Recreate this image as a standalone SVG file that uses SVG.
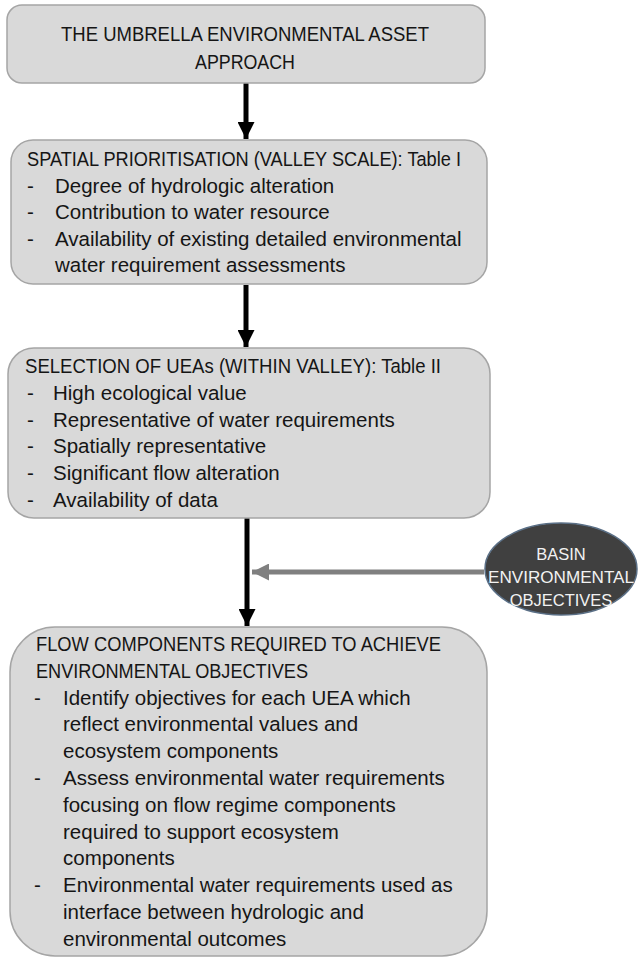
<svg xmlns="http://www.w3.org/2000/svg" width="640" height="958" viewBox="0 0 640 958">
<style>
.box{fill:#d9d9d9;stroke:#a5a5a5;stroke-width:1.5}
.t{font-family:"Liberation Sans",Arial,sans-serif;font-size:20.5px;fill:#151515}
.c{text-anchor:middle}
.e{font-family:"Liberation Sans",Arial,sans-serif;font-size:16.5px;fill:#f2f2f2;text-anchor:middle}
.blk{stroke:#000;stroke-width:5;fill:none}
.gry{stroke:#808080;stroke-width:5;fill:none}
</style>
<defs>
<marker id="ab" viewBox="0 0 10 10" refX="10" refY="5" markerUnits="userSpaceOnUse" markerWidth="17" markerHeight="17" orient="auto"><path d="M0,0 L10,5 L0,10 z" fill="#000"/></marker>
<marker id="ag" viewBox="0 0 10 10" refX="10" refY="5" markerUnits="userSpaceOnUse" markerWidth="17" markerHeight="17" orient="auto"><path d="M0,0 L10,5 L0,10 z" fill="#808080"/></marker>
</defs>
<g id="connectors">
<line class="blk" x1="246" y1="83" x2="246" y2="139" marker-end="url(#ab)"/>
<line class="blk" x1="246" y1="285" x2="246" y2="347" marker-end="url(#ab)"/>
<line class="blk" x1="247" y1="518" x2="247" y2="626" marker-end="url(#ab)"/>
<line class="gry" x1="484" y1="572" x2="252" y2="572" marker-end="url(#ag)"/>
</g>
<g id="n1">
<rect class="box" x="7" y="5" width="478" height="78" rx="15"/>
<text class="t c" x="245" y="41" textLength="368" lengthAdjust="spacingAndGlyphs">THE UMBRELLA ENVIRONMENTAL ASSET</text>
<text class="t c" x="245" y="69" textLength="100" lengthAdjust="spacingAndGlyphs">APPROACH</text>
</g>
<g id="n2">
<rect class="box" x="11" y="140" width="476" height="144" rx="22"/>
<text class="t" x="27" y="166" textLength="434" lengthAdjust="spacingAndGlyphs">SPATIAL PRIORITISATION (VALLEY SCALE): Table I</text>
<text class="t" x="27" y="193">-</text><text class="t" x="55" y="193">Degree of hydrologic alteration</text>
<text class="t" x="27" y="219">-</text><text class="t" x="55" y="219">Contribution to water resource</text>
<text class="t" x="27" y="246">-</text><text class="t" x="55" y="246">Availability of existing detailed environmental</text>
<text class="t" x="55" y="272">water requirement assessments</text>
</g>
<g id="n3">
<rect class="box" x="8" y="348" width="482" height="170" rx="26"/>
<text class="t" x="25" y="373" textLength="416" lengthAdjust="spacingAndGlyphs">SELECTION OF UEAs (WITHIN VALLEY): Table II</text>
<text class="t" x="27" y="400">-</text><text class="t" x="53" y="400">High ecological value</text>
<text class="t" x="27" y="427">-</text><text class="t" x="53" y="427">Representative of water requirements</text>
<text class="t" x="27" y="453">-</text><text class="t" x="53" y="453">Spatially representative</text>
<text class="t" x="27" y="480">-</text><text class="t" x="53" y="480">Significant flow alteration</text>
<text class="t" x="27" y="507">-</text><text class="t" x="53" y="507">Availability of data</text>
</g>
<g id="n4">
<ellipse cx="561" cy="569" rx="76" ry="46" fill="#404040" stroke="#5a6f86" stroke-width="1.5"/>
<text class="e" x="561" y="560">BASIN</text>
<text class="e" x="561" y="583" textLength="146" lengthAdjust="spacingAndGlyphs">ENVIRONMENTAL</text>
<text class="e" x="561" y="606">OBJECTIVES</text>
</g>
<g id="n5">
<rect class="box" x="10" y="627" width="477" height="329" rx="45"/>
<text class="t" x="36" y="651" textLength="405" lengthAdjust="spacingAndGlyphs">FLOW COMPONENTS REQUIRED TO ACHIEVE</text>
<text class="t" x="36" y="678" textLength="272" lengthAdjust="spacingAndGlyphs">ENVIRONMENTAL OBJECTIVES</text>
<text class="t" x="34" y="705">-</text><text class="t" x="63" y="705">Identify objectives for each UEA which</text>
<text class="t" x="63" y="731">reflect environmental values and</text>
<text class="t" x="63" y="758">ecosystem components</text>
<text class="t" x="34" y="785">-</text><text class="t" x="63" y="785">Assess environmental water requirements</text>
<text class="t" x="63" y="812">focusing on flow regime components</text>
<text class="t" x="63" y="839">required to support ecosystem</text>
<text class="t" x="63" y="865">components</text>
<text class="t" x="34" y="892">-</text><text class="t" x="63" y="892">Environmental water requirements used as</text>
<text class="t" x="63" y="919">interface between hydrologic and</text>
<text class="t" x="63" y="946">environmental outcomes</text>
</g>
</svg>
